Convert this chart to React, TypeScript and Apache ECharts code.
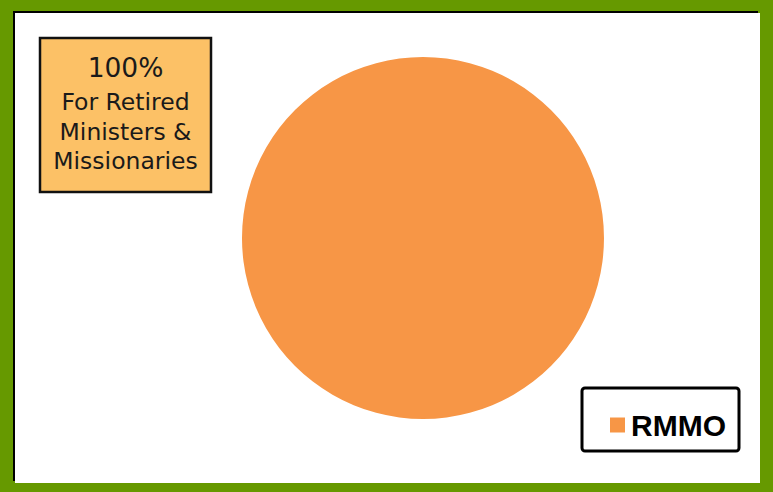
import React, { useEffect, useRef } from "react";
import * as echarts from "echarts";

const categories = ["RMMO"];
const values = [100];
const boxLines = ["100%", "For Retired", "Ministers &", "Missionaries"];

export default function App() {
  const ref = useRef<HTMLDivElement>(null);
  useEffect(() => {
    document.body.style.margin = "0";
    const chart = echarts.init(ref.current!, null, { renderer: "svg" });
    const lineY = [67, 102, 132, 161];
    const lineSize = [26.5, 23.5, 23.5, 23.5];
    chart.setOption({
      animation: false,
      backgroundColor: "#ffffff",
      legend: {
        data: categories,
        left: 605,
        top: 405,
        icon: "rect",
        itemWidth: 15,
        itemHeight: 15,
        itemGap: 8,
        textStyle: {
          fontFamily: "Liberation Sans, Arial, sans-serif",
          fontWeight: "bold",
          fontSize: 30,
          color: "#000000",
          padding: [0, 0, 0, 1],
        },
      },
      graphic: [
        { type: "rect", z: -10, shape: { x: 0, y: 0, width: 773, height: 492 }, style: { fill: "#669900" } },
        { type: "rect", z: -9, shape: { x: 13, y: 11, width: 745, height: 470 }, style: { fill: "#000000" } },
        { type: "rect", z: -8, shape: { x: 15, y: 13, width: 745, height: 470 }, style: { fill: "#ffffff" } },
        {
          type: "rect",
          shape: { x: 40, y: 38, width: 171, height: 154 },
          style: { fill: "#FCC166", stroke: "#111111", lineWidth: 2.5 },
        },
        ...boxLines.map((t, i) => ({
          type: "text",
          x: 125.5,
          y: lineY[i],
          style: {
            text: t,
            fontFamily: "DejaVu Sans, Verdana, sans-serif",
            fontSize: lineSize[i],
            fill: "#1a1a1a",
            align: "center",
            verticalAlign: "middle",
          },
        })),
        {
          type: "rect",
          shape: { x: 582, y: 388, width: 157, height: 63, r: 3 },
          style: { fill: "#ffffff", stroke: "#000000", lineWidth: 3 },
          z: 0,
        },
      ],
      series: [
        {
          type: "pie",
          center: [423, 238],
          radius: 181,
          startAngle: 90,
          label: { show: false },
          labelLine: { show: false },
          itemStyle: { color: "#F79646", borderWidth: 0 },
          emphasis: { disabled: true },
          data: categories.map((c, i) => ({ name: c, value: values[i] })),
        },
      ],
    });
    return () => chart.dispose();
  }, []);
  return <div ref={ref} style={{ width: 773, height: 492 }} />;
}
